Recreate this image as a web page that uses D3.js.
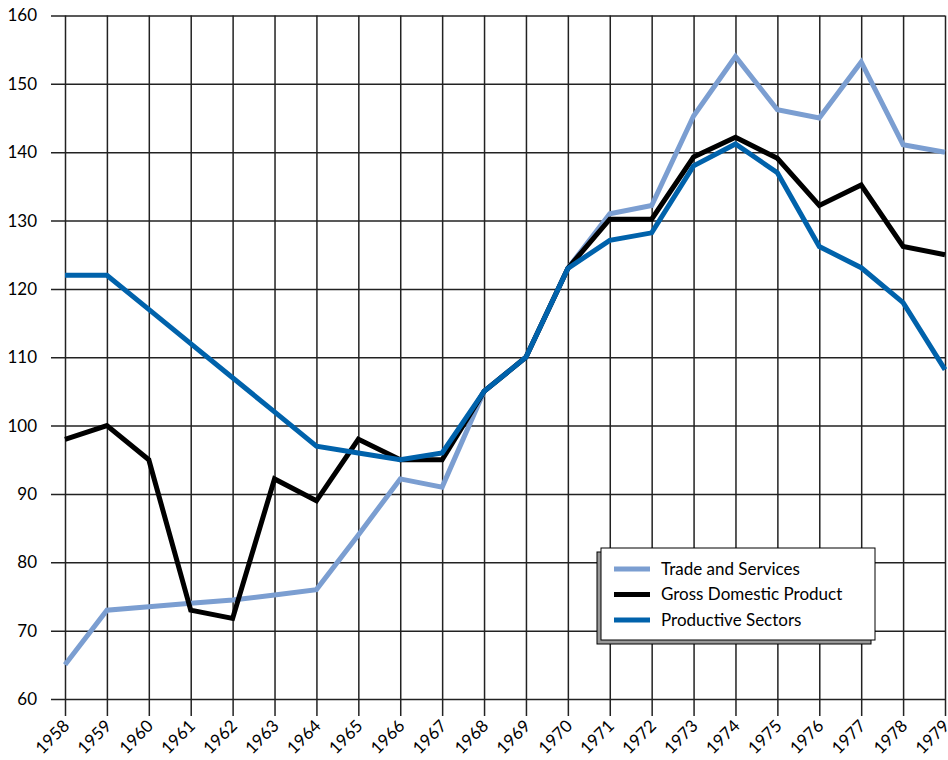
<!DOCTYPE html>
<html>
<head>
<meta charset="utf-8">
<script src="https://cdn.jsdelivr.net/npm/d3@7"></script>
<style>
  body { margin: 0; background: #fff; }
  svg text { font-family: "Lato", "Noto Sans", sans-serif; fill: #000; }
</style>
</head>
<body>
<div id="chart"></div>
<script>
var years = [1958, 1959, 1960, 1961, 1962, 1963, 1964, 1965, 1966, 1967, 1968,
	1969, 1970, 1971, 1972, 1973, 1974, 1975, 1976, 1977, 1978, 1979];
var tradeServices = [65, 73, 73.5, 74, 74.5, 75.2, 76, 84, 92.2, 91, 105,
	110, 123, 131, 132.2, 145.3, 154, 146.2, 145, 153.2, 141.1, 140];
var gdp = [98, 100, 95, 73, 71.8, 92.2, 89, 98, 95, 95, 105,
	110, 123, 130.2, 130.2, 139.3, 142.2, 139.1, 132.2, 135.2, 126.2, 125];
var productive = [122, 122, 117, 112, 107, 102, 97, 96, 95, 96, 105,
	110, 123, 127.1, 128.2, 138, 141.2, 137, 126.2, 123.1, 118, 108.2];
var yTicks = [60, 70, 80, 90, 100, 110, 120, 130, 140, 150, 160];
var seriesNames = ['Trade and Services', 'Gross Domestic Product', 'Productive Sectors'];
var seriesColors = ['#7b9ed1', '#000000', '#0062ab'];

var width = 948, height = 760;
var padding = {t: 15.5, r: 3, b: 61, l: 65};
var chartWidth = width - padding.l - padding.r;
var chartHeight = height - padding.t - padding.b;

var svg = d3.select('#chart').append('svg')
	.attr('width', width)
	.attr('height', height);

var xScale = d3.scaleLinear().domain([1958, 1979]).range([0, chartWidth]);
var yScale = d3.scaleLinear().domain([60, 160]).range([chartHeight, 0]);

var chartG = svg.append('g')
	.attr('transform', 'translate(' + [padding.l, padding.t] + ')');

// horizontal grid + y tick labels
var yAxis = d3.axisLeft(yScale).tickValues(yTicks).tickSize(14);
var yG = chartG.append('g').call(yAxis);
yG.select('.domain').remove();
yG.selectAll('.tick line').attr('x2', chartWidth).attr('x1', -14)
	.attr('stroke', '#222').attr('stroke-width', 1.5);
yG.selectAll('.tick text').attr('x', -28).style('font-size', '17px');

// vertical grid + x tick labels (rotated)
var xAxis = d3.axisBottom(xScale).tickValues(years).tickFormat(d3.format('d')).tickSize(17);
var xG = chartG.append('g').attr('transform', 'translate(0,' + chartHeight + ')').call(xAxis);
xG.select('.domain').remove();
xG.selectAll('.tick line').attr('y1', -chartHeight).attr('y2', 17)
	.attr('stroke', '#222').attr('stroke-width', 1.5);
xG.selectAll('.tick text')
	.style('font-size', '17px')
	.attr('text-anchor', 'end')
	.attr('dy', null)
	.attr('y', 0)
	.attr('transform', 'translate(5,28) rotate(-45)');

// lines
var allSeries = [tradeServices, gdp, productive];
var line = d3.line()
	.x(function(d, i) { return xScale(years[i]); })
	.y(function(d) { return yScale(d); });

chartG.selectAll('path.series')
	.data(allSeries)
	.enter()
	.append('path')
	.attr('class', 'series')
	.attr('d', line)
	.attr('fill', 'none')
	.attr('stroke', function(d, i) { return seriesColors[i]; })
	.attr('stroke-width', 5)
	.attr('stroke-linejoin', 'miter');

// legend with drop shadow box
var legend = svg.append('g').attr('transform', 'translate(601,548)');
legend.append('rect')
	.attr('x', -4).attr('y', 4).attr('width', 274).attr('height', 92)
	.attr('fill', '#999').attr('stroke', '#000').attr('stroke-width', 1);
legend.append('rect')
	.attr('x', 0).attr('y', 0).attr('width', 274).attr('height', 92)
	.attr('fill', '#fff').attr('stroke', '#000').attr('stroke-width', 1);
var items = legend.selectAll('g.item')
	.data(seriesNames)
	.enter()
	.append('g')
	.attr('class', 'item')
	.attr('transform', function(d, i) { return 'translate(0,' + (21 + i * 25.5) + ')'; });
items.append('line')
	.attr('x1', 13).attr('x2', 49)
	.attr('stroke', function(d, i) { return seriesColors[i]; })
	.attr('stroke-width', 5);
items.append('text')
	.attr('x', 60).attr('dy', '0.35em')
	.style('font-size', '17px')
	.text(function(d) { return d; });
</script>
</body>
</html>
